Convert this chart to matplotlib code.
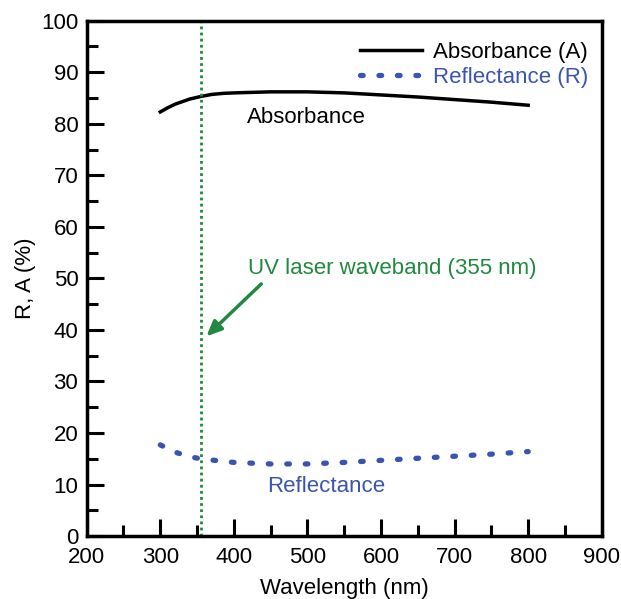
import numpy as np
import matplotlib
matplotlib.use("Agg")
import matplotlib.pyplot as plt
from matplotlib.ticker import MultipleLocator

# data
wl_abs = [300, 310, 320, 330, 340, 355, 370, 385, 400, 450, 500, 550, 600, 650, 700, 750, 800]
absorb = [82.3, 83.1, 83.8, 84.3, 84.8, 85.3, 85.7, 85.9, 86.0, 86.2, 86.2, 86.0, 85.6, 85.2, 84.7, 84.2, 83.6]
wl_ref = [300, 320, 340, 355, 380, 400, 450, 500, 550, 600, 650, 700, 750, 800]
reflect = [17.7, 16.3, 15.4, 15.0, 14.6, 14.3, 14.0, 14.0, 14.3, 14.7, 15.1, 15.5, 15.9, 16.4]
laser_wl = 355

blue = '#3a54b0'
green = '#1f8a3f'

plt.rcParams['font.family'] = ['Liberation Sans', 'DejaVu Sans']
fig = plt.figure(figsize=(6.21, 5.99), dpi=100)
ax = fig.add_axes([0.1396, 0.105, 0.8294, 0.8604])

ax.plot(wl_abs, absorb, color='black', lw=2.5, label='Absorbance (A)')
ax.plot(wl_ref, reflect, color=blue, lw=3.8, ls=(0, (0.5, 3.0)),
        dash_capstyle='round', label='Reflectance (R)')
ax.axvline(laser_wl, color=green, lw=2, ls=(0, (1, 1.2)))

ax.set_xlim(200, 900)
ax.set_ylim(0, 100)
ax.xaxis.set_major_locator(MultipleLocator(100))
ax.xaxis.set_minor_locator(MultipleLocator(50))
ax.yaxis.set_major_locator(MultipleLocator(10))
ax.yaxis.set_minor_locator(MultipleLocator(5))
ax.tick_params(which='both', direction='in', width=2.2, labelsize=16,
               top=False, right=False)
ax.tick_params(axis='y', pad=6)
ax.tick_params(axis='x', pad=8)
ax.tick_params(which='major', length=12)
ax.tick_params(which='minor', length=8)
for s in ax.spines.values():
    s.set_linewidth(2.5)

ax.set_xlabel('Wavelength (nm)', fontsize=16, labelpad=7)
ax.set_ylabel('R, A (%)', fontsize=16, labelpad=4)

leg = ax.legend(loc='upper right', bbox_to_anchor=(1.0, 0.985), frameon=False,
                fontsize=16, handlelength=2.8, handletextpad=0.5,
                borderaxespad=0.2, labelspacing=0.2)
for txt, c in zip(leg.get_texts(), ['black', blue]):
    txt.set_color(c)

ax.text(499, 81.3, 'Absorbance', fontsize=16, ha='center', va='center')
ax.text(526, 9.7, 'Reflectance', fontsize=16, ha='center', va='center', color=blue)
ax.text(615, 52, 'UV laser waveband (355 nm)', fontsize=16, ha='center',
        va='center', color=green)
ax.annotate('', xy=(360, 38.4), xytext=(440, 49.3),
            arrowprops=dict(arrowstyle='-|>,head_length=0.9,head_width=0.4',
                            color=green, lw=2.5))

fig.savefig('out.png', dpi=100)
